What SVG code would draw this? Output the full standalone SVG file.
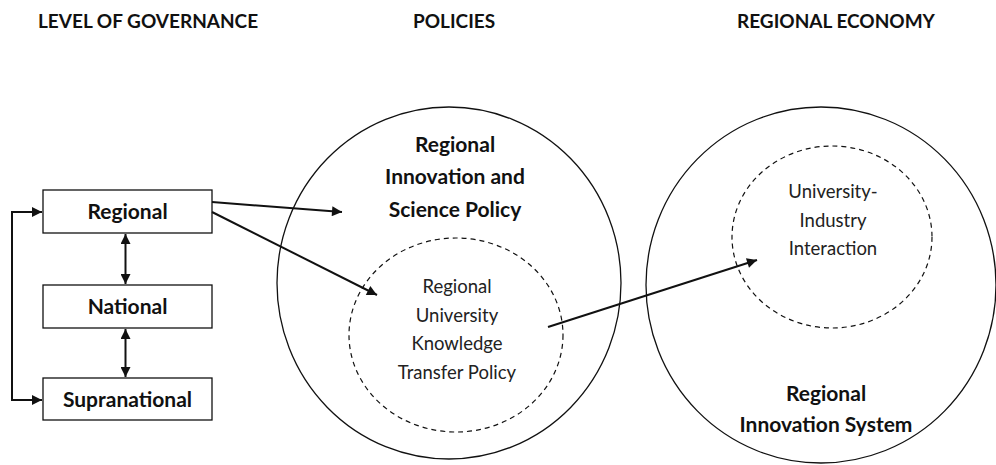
<svg xmlns="http://www.w3.org/2000/svg" width="996" height="465" viewBox="0 0 996 465">
<style>
.h{font-family:Lato,"Liberation Sans",sans-serif;font-weight:bold;font-size:19px;fill:#111}
.b{font-family:Lato,"Liberation Sans",sans-serif;font-weight:bold;font-size:21px;fill:#111;text-anchor:middle}
.n{font-family:Lato,"Liberation Sans",sans-serif;font-size:18.5px;fill:#222;text-anchor:middle}
.box{fill:#fff;stroke:#111;stroke-width:1.3}
.circ{fill:none;stroke:#111;stroke-width:1.3}
.dash{fill:none;stroke:#111;stroke-width:1.2;stroke-dasharray:5,4}
.ln{fill:none;stroke:#111;stroke-width:2}
</style>
<defs>
<marker id="ah" viewBox="0 0 10 10" refX="10" refY="5" markerWidth="6.5" markerHeight="5" markerUnits="strokeWidth" orient="auto-start-reverse">
<path d="M0,0 L10,5 L0,10 Z" fill="#111"/>
</marker>
</defs>
<rect width="996" height="465" fill="#fff"/>
<g id="headers">
<text class="h" x="38" y="28">LEVEL OF GOVERNANCE</text>
<text class="h" x="413" y="28">POLICIES</text>
<text class="h" x="737" y="28">REGIONAL ECONOMY</text>
</g>
<g id="policies">
<ellipse class="circ" cx="449" cy="283" rx="172" ry="176"/>
<text class="b" x="455" y="152">Regional</text>
<text class="b" x="455" y="184">Innovation and</text>
<text class="b" x="455" y="217">Science Policy</text>
</g>
<g id="ruktp">
<ellipse class="dash" cx="456" cy="335" rx="107" ry="97"/>
<text class="n" x="457" y="293">Regional</text>
<text class="n" x="457" y="322">University</text>
<text class="n" x="457" y="350">Knowledge</text>
<text class="n" x="457" y="379">Transfer Policy</text>
</g>
<g id="ris">
<ellipse class="circ" cx="821" cy="285" rx="175" ry="178"/>
<text class="b" x="826" y="401">Regional</text>
<text class="b" x="826" y="432">Innovation System</text>
</g>
<g id="uii">
<ellipse class="dash" cx="832" cy="237" rx="100" ry="91"/>
<text class="n" x="833" y="198">University-</text>
<text class="n" x="833" y="227">Industry</text>
<text class="n" x="833" y="255">Interaction</text>
</g>
<g id="regional">
<rect class="box" x="43" y="190" width="169" height="43"/>
<text class="b" x="127.5" y="219">Regional</text>
</g>
<g id="national">
<rect class="box" x="43" y="285" width="169" height="43"/>
<text class="b" x="127.5" y="314">National</text>
</g>
<g id="supranational">
<rect class="box" x="43" y="378" width="169" height="42"/>
<text class="b" x="127.5" y="407">Supranational</text>
</g>
<g id="connectors">
<line class="ln" x1="125.5" y1="234" x2="125.5" y2="284" marker-start="url(#ah)" marker-end="url(#ah)"/>
<line class="ln" x1="125.5" y1="329" x2="125.5" y2="377" marker-start="url(#ah)" marker-end="url(#ah)"/>
<polyline class="ln" points="42,212 12,212 12,400 42,400" marker-start="url(#ah)" marker-end="url(#ah)"/>
<line class="ln" x1="212" y1="202" x2="342" y2="212" marker-end="url(#ah)"/>
<line class="ln" x1="212" y1="212" x2="377" y2="295" marker-end="url(#ah)"/>
<line class="ln" x1="548" y1="327" x2="757" y2="260" marker-end="url(#ah)"/>
</g>
</svg>
